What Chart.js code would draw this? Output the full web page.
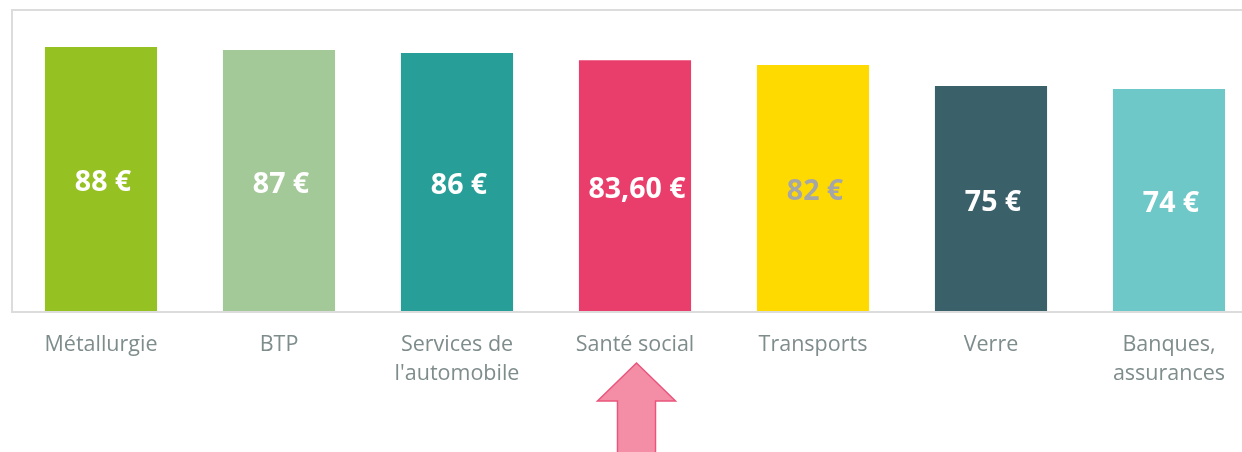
<!DOCTYPE html>
<html>
<head>
<meta charset="utf-8">
<script src="https://cdn.jsdelivr.net/npm/chart.js@4.4.0/dist/chart.umd.min.js"></script>
<style>
    html, body { margin: 0; padding: 0; background: #fff; overflow: hidden; }
    #wrap { width: 1300px; height: 452px; }
</style>
</head>
<body>
<div id="wrap"><canvas id="chart" width="1300" height="452"></canvas></div>
<script>
const categories = ['Métallurgie', 'BTP', ['Services de', "l'automobile"], 'Santé social', 'Transports', 'Verre', ['Banques,', 'assurances']];
const values = [88, 87, 86, 83.6, 82, 75, 74];
const barColors = ['#95C123', '#A4C999', '#279E98', '#E93D6B', '#FFDA00', '#3A606A', '#6EC8C7'];
const labelColors = ['#FFFFFF', '#FFFFFF', '#FFFFFF', '#FFFFFF', '#A6A6A6', '#FFFFFF', '#FFFFFF'];
const highlightIndex = 3;

function formatEuro(v) {
    const s = Number.isInteger(v) ? String(v) : v.toFixed(2).replace('.', ',');
    return s + ' €';
}

// cadre gris (gauche, haut, bas) autour de la zone du graphique
const framePlugin = {
    id: 'frame',
    beforeDatasetsDraw(chart) {
        const { ctx, chartArea: a } = chart;
        ctx.save();
        ctx.strokeStyle = '#DCDCDC';
        ctx.lineWidth = 2;
        ctx.beginPath();
        ctx.moveTo(a.right, a.top - 1);
        ctx.lineTo(a.left, a.top - 1);
        ctx.lineTo(a.left, a.bottom + 1);
        ctx.lineTo(a.right, a.bottom + 1);
        ctx.stroke();
        ctx.restore();
    }
};

// valeurs au milieu des barres
const valueLabels = {
    id: 'valueLabels',
    afterDatasetsDraw(chart) {
        const { ctx } = chart;
        const meta = chart.getDatasetMeta(0);
        ctx.save();
        ctx.font = 'bold 28.5px "Open Sans"';
        ctx.textAlign = 'center';
        ctx.textBaseline = 'middle';
        meta.data.forEach((bar, i) => {
            ctx.fillStyle = labelColors[i];
            ctx.fillText(formatEuro(values[i]), bar.x + 2, (bar.y + bar.base) / 2 + 4);
        });
        ctx.restore();
    }
};

// flèche rose sous "Santé social"
const arrowPlugin = {
    id: 'arrow',
    afterDraw(chart) {
        const { ctx } = chart;
        const cx = chart.scales.x.getPixelForValue(highlightIndex) + 1.5;
        const tip = 363, base = 401, bottom = 470;
        ctx.save();
        ctx.beginPath();
        ctx.moveTo(cx, tip);
        ctx.lineTo(cx + 39, base);
        ctx.lineTo(cx + 19, base);
        ctx.lineTo(cx + 19, bottom);
        ctx.lineTo(cx - 19, bottom);
        ctx.lineTo(cx - 19, base);
        ctx.lineTo(cx - 39, base);
        ctx.closePath();
        ctx.fillStyle = '#F48EA7';
        ctx.fill();
        ctx.strokeStyle = '#E9557C';
        ctx.lineWidth = 1.5;
        ctx.stroke();
        ctx.restore();
    }
};

new Chart(document.getElementById('chart'), {
    type: 'bar',
    data: {
        labels: categories,
        datasets: [{
            data: values,
            backgroundColor: barColors,
            borderWidth: 0,
            barPercentage: 0.63,
            categoryPercentage: 1
        }]
    },
    options: {
        responsive: false,
        animation: false,
        layout: { padding: { left: 12, top: 11, right: 42, bottom: 0 } },
        plugins: {
            legend: { display: false },
            tooltip: { enabled: false }
        },
        scales: {
            y: {
                display: false,
                min: 0,
                max: 100
            },
            x: {
                grid: { display: false, drawTicks: false },
                border: { display: false },
                ticks: {
                    color: '#7F8C8C',
                    padding: 19,
                    maxRotation: 0,
                    autoSkip: false,
                    font: { family: '"Open Sans"', size: 21.5, lineHeight: 1.35 }
                },
                afterFit(scale) { scale.height = 141; }
            }
        }
    },
    plugins: [framePlugin, valueLabels, arrowPlugin]
});
</script>
</body>
</html>
